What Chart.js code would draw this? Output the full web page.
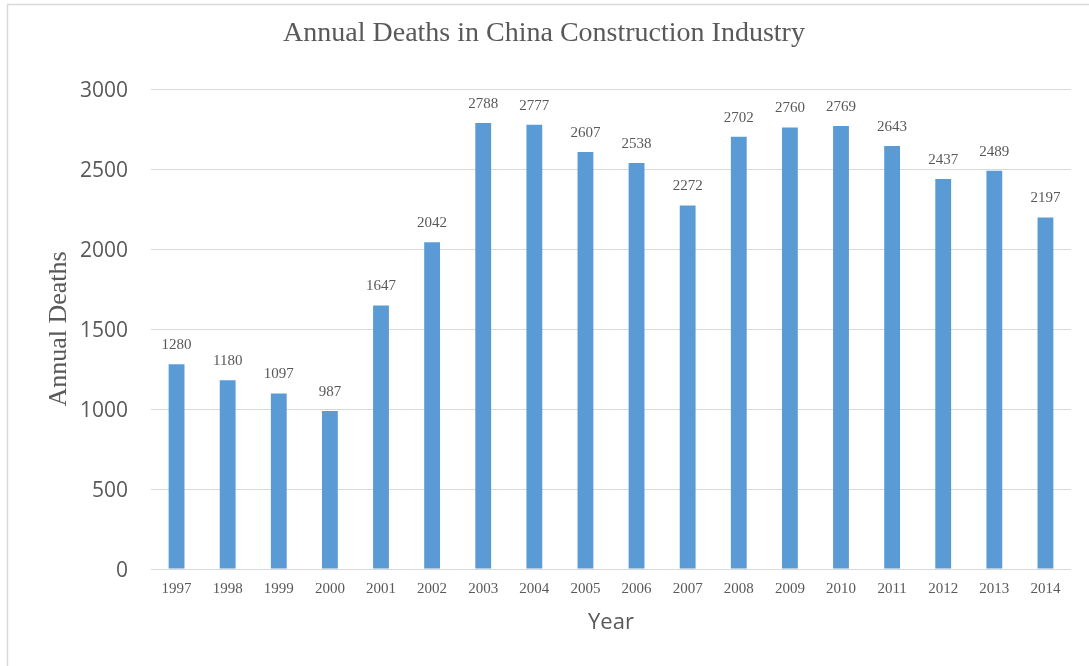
<!DOCTYPE html>
<html>
<head>
<meta charset="utf-8">
<title>Annual Deaths in China Construction Industry</title>
<script src="https://cdn.jsdelivr.net/npm/chart.js"></script>
<style>
    html, body { margin: 0; padding: 0; background: #ffffff; }
    #wrap { position: relative; width: 1089px; height: 666px; }
</style>
<script>
    // data
    const years = ['1997', '1998', '1999', '2000', '2001', '2002', '2003', '2004', '2005',
                   '2006', '2007', '2008', '2009', '2010', '2011', '2012', '2013', '2014'];
    const deaths = [1280, 1180, 1097, 987, 1647, 2042, 2788, 2777, 2607,
                    2538, 2272, 2702, 2760, 2769, 2643, 2437, 2489, 2197];
    const yTicks = [0, 500, 1000, 1500, 2000, 2500, 3000];

    const textColor = '#595959';
    const gridColor = '#d9d9d9';

    // frame, titles and the value labels above the bars
    const decorations = {
        id: 'decorations',
        beforeDraw(chart) {
            const ctx = chart.ctx;
            ctx.save();
            ctx.fillStyle = '#ffffff';
            ctx.fillRect(0, 0, chart.width, chart.height);
            ctx.strokeStyle = gridColor;
            ctx.lineWidth = 1.5;
            ctx.strokeRect(7.5, 4.5, chart.width + 20, chart.height + 20);
            ctx.restore();
        },
        afterDraw(chart) {
            const ctx = chart.ctx;
            const area = chart.chartArea;
            ctx.save();
            ctx.fillStyle = textColor;

            ctx.textAlign = 'center';
            ctx.textBaseline = 'alphabetic';
            ctx.font = '28px "Liberation Serif"';
            ctx.fillText('Annual Deaths in China Construction Industry', 544, 41);

            ctx.font = '22px "Open Sans"';
            ctx.fillText('Year', (area.left + area.right) / 2, 629);

            ctx.save();
            ctx.translate(66, (area.top + area.bottom) / 2);
            ctx.rotate(-Math.PI / 2);
            ctx.font = '26px "Liberation Serif"';
            ctx.fillText('Annual Deaths', 0, 0);
            ctx.restore();

            ctx.font = '15px "Liberation Serif"';
            const meta = chart.getDatasetMeta(0);
            meta.data.forEach(function(bar, i) {
                ctx.fillText(String(deaths[i]), bar.x, bar.y - 15);
            });
            ctx.restore();
        }
    };

    document.addEventListener('DOMContentLoaded', function() {
        const ctx = document.getElementById('chart').getContext('2d');
        new Chart(ctx, {
            type: 'bar',
            data: {
                labels: years,
                datasets: [{
                    label: 'Annual Deaths',
                    data: deaths,
                    backgroundColor: '#5b9bd5',
                    borderWidth: 0,
                    barPercentage: 0.31,
                    categoryPercentage: 1
                }]
            },
            options: {
                responsive: false,
                animation: false,
                layout: {
                    padding: { left: 0, right: 18, top: 89, bottom: 0 }
                },
                plugins: {
                    legend: { display: false },
                    title: { display: false },
                    tooltip: { enabled: false }
                },
                scales: {
                    x: {
                        grid: { display: false, drawTicks: false },
                        border: { display: false },
                        ticks: {
                            color: textColor,
                            font: { family: 'Liberation Serif', size: 15 },
                            padding: 11,
                            maxRotation: 0,
                            autoSkip: false
                        },
                        afterFit(scale) { scale.height = 97; }
                    },
                    y: {
                        min: 0,
                        max: 3000,
                        afterBuildTicks(scale) {
                            scale.ticks = yTicks.map(function(v) { return { value: v }; });
                        },
                        grid: { color: gridColor, lineWidth: 1, drawTicks: false },
                        border: { display: false },
                        ticks: {
                            color: textColor,
                            font: { family: 'Open Sans', size: 21 },
                            padding: 23,
                            labelOffset: 2,
                            callback: function(value) { return String(value); }
                        },
                        afterFit(scale) { scale.width = 151; }
                    }
                }
            },
            plugins: [decorations]
        });
    });
</script>
</head>
<body>
<div id="wrap">
    <canvas id="chart" width="1089" height="666"></canvas>
</div>
</body>
</html>
